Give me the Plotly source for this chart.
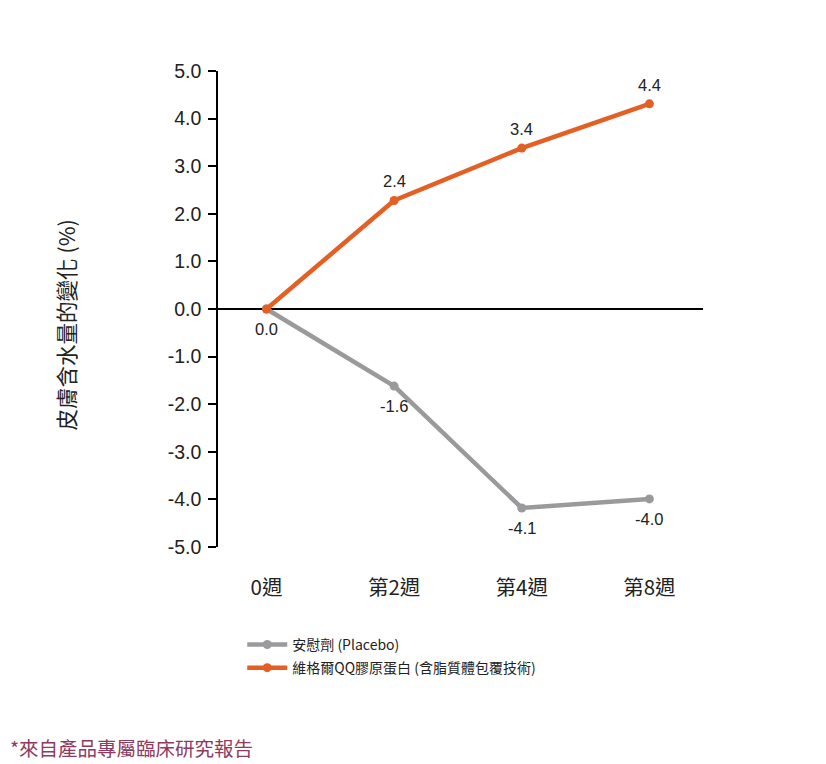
import plotly.graph_objects as go

categories = ["0週", "第2週", "第4週", "第8週"]
placebo_values = [0.0, -1.62, -4.18, -3.99]
placebo_labels = ["0.0", "-1.6", "-4.1", "-4.0"]
qq_values = [0.0, 2.28, 3.38, 4.31]
qq_labels = ["", "2.4", "3.4", "4.4"]
series_names = ["安慰劑 (Placebo)", "維格爾QQ膠原蛋白 (含脂質體包覆技術)"]
y_ticks = [5, 4, 3, 2, 1, 0, -1, -2, -3, -4, -5]
y_title = "皮膚含水量的變化 (%)"
footnote = "*來自產品專屬臨床研究報告"

ORANGE = "#E35F24"
GRAY = "#9A9A9C"
LATIN = "Liberation Sans, Arial, Noto Sans CJK TC"
CJK = "Noto Sans CJK TC, Liberation Sans"

fig = go.Figure()
fig.add_trace(go.Scatter(
    x=categories, y=placebo_values, name=series_names[0], legendgroup="a",
    mode="lines+markers",
    line=dict(color=GRAY, width=4.5), marker=dict(color=GRAY, size=9),
    cliponaxis=False,
))
fig.add_trace(go.Scatter(
    x=categories, y=qq_values, name=series_names[1], legendgroup="b",
    mode="lines+markers",
    line=dict(color=ORANGE, width=4.5), marker=dict(color=ORANGE, size=9),
    cliponaxis=False,
))

label_font = dict(family=LATIN, size=16.5, color="#222222")
annotations = []
for cat, val, lab in zip(categories, placebo_values, placebo_labels):
    if lab:
        annotations.append(dict(x=cat, y=val, text=lab, showarrow=False, yshift=-20,
                                xanchor="center", yanchor="middle", font=label_font))
for cat, val, lab in zip(categories, qq_values, qq_labels):
    if lab:
        annotations.append(dict(x=cat, y=val, text=lab, showarrow=False, yshift=19,
                                xanchor="center", yanchor="middle", font=label_font))

annotations += [
    dict(text=y_title, textangle=-90, xref="paper", yref="paper",
         x=-0.315, y=0.466, xanchor="center", yanchor="middle", showarrow=False,
         font=dict(family=CJK, size=21.5, color="#222222")),
    dict(text=footnote, xref="paper", yref="paper",
         x=-0.433, y=-0.422, xanchor="left", yanchor="middle", showarrow=False,
         font=dict(family=CJK, size=19.5, color="#8E3B62")),
]

fig.update_layout(
    width=826, height=764,
    margin=dict(l=210, r=131, t=63, b=225),
    paper_bgcolor="white", plot_bgcolor="white",
    showlegend=True,
    legend=dict(x=0.05, y=-0.172, xanchor="left", yanchor="top",
                font=dict(family=CJK, size=14, color="#222222"),
                tracegroupgap=2, itemwidth=40, bgcolor="rgba(0,0,0,0)"),
    xaxis=dict(type="category", range=[-0.38, 3.42], showgrid=False, showline=False,
               zeroline=False, ticks="", ticklabelstandoff=26,
               tickfont=dict(family=CJK, size=20.5, color="#222222")),
    yaxis=dict(range=[-5, 5], tickvals=y_ticks, ticktext=[f"{v:.1f}" for v in y_ticks],
               showgrid=False, showline=True, linecolor="black", linewidth=1.5,
               ticks="outside", ticklen=8, tickwidth=1.5, tickcolor="black",
               zeroline=True, zerolinecolor="black", zerolinewidth=1.5,
               ticklabelstandoff=3,
               tickfont=dict(family=LATIN, size=19.5, color="#222222")),
    annotations=annotations,
)

fig.write_html("out.html")
